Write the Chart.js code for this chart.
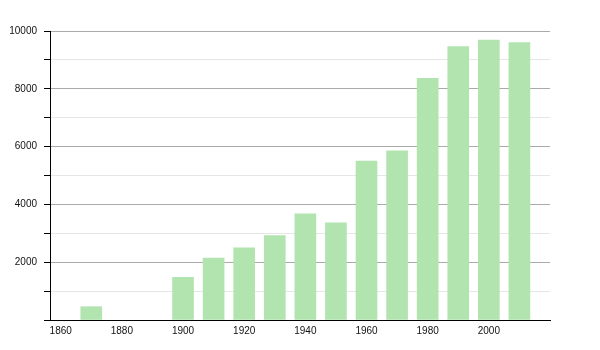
<!DOCTYPE html>
<html>
<head>
<meta charset="utf-8">
<script src="https://cdn.jsdelivr.net/npm/chart.js@4"></script>
<style>
  html, body { margin: 0; padding: 0; background: #fff; }
  #wrap { width: 600px; height: 350px; }
</style>
</head>
<body>
<div id="wrap"><canvas id="chart" width="600" height="350"></canvas></div>
<script>
var years = [1870, 1900, 1910, 1920, 1930, 1940, 1950, 1960, 1970, 1980, 1990, 2000, 2010];
var population = [460, 1480, 2140, 2500, 2920, 3670, 3360, 5500, 5850, 8360, 9460, 9690, 9600];
var xTicks = [1860, 1880, 1900, 1920, 1940, 1960, 1980, 2000];
var yTicks = [2000, 4000, 6000, 8000, 10000];

var points = years.map(function(y, i) { return { x: y, y: population[i] }; });

var config = {
  type: 'bar',
  data: {
    datasets: [{
      data: points,
      backgroundColor: '#b2e4b0',
      borderWidth: 0,
      barThickness: 21
    }]
  },
  options: {
    responsive: false,
    animation: false,
    layout: { padding: { top: 31, right: 50, left: 0, bottom: 0 } },
    plugins: { legend: { display: false }, tooltip: { enabled: false } },
    scales: {
      x: {
        type: 'linear',
        offset: false,
        min: 1856.5,
        max: 2020,
        afterBuildTicks: function(scale) {
          scale.ticks = xTicks.map(function(v) { return { value: v }; });
        },
        afterFit: function(scale) { scale.height = 30; },
        grid: { display: false, drawTicks: false, offset: false },
        border: { color: '#000', width: 1 },
        ticks: {
          padding: 5,
          maxRotation: 0,
          autoSkip: false,
          color: '#111',
          font: { family: 'Liberation Sans', size: 10 },
          callback: function(v) { return String(v); }
        }
      },
      y: {
        min: 0,
        max: 10000,
        afterBuildTicks: function(scale) {
          var t = [];
          for (var v = 0; v <= 10000; v += 1000) t.push({ value: v });
          scale.ticks = t;
        },
        afterFit: function(scale) { scale.width = 50; },
        border: { color: '#000', width: 1 },
        grid: {
          color: function(ctx) {
            var v = ctx.tick ? ctx.tick.value : 0;
            if (v === 0) return '#000';
            return yTicks.indexOf(v) >= 0 ? '#aaaaaa' : '#e6e6e6';
          },
          tickColor: '#000',
          tickLength: 6
        },
        ticks: {
          padding: 7,
          autoSkip: false,
          color: '#111',
          font: { family: 'Liberation Sans', size: 10 },
          callback: function(v) { return yTicks.indexOf(v) >= 0 ? String(v) : ''; }
        }
      }
    }
  }
};

new Chart(document.getElementById('chart'), config);
</script>
</body>
</html>
